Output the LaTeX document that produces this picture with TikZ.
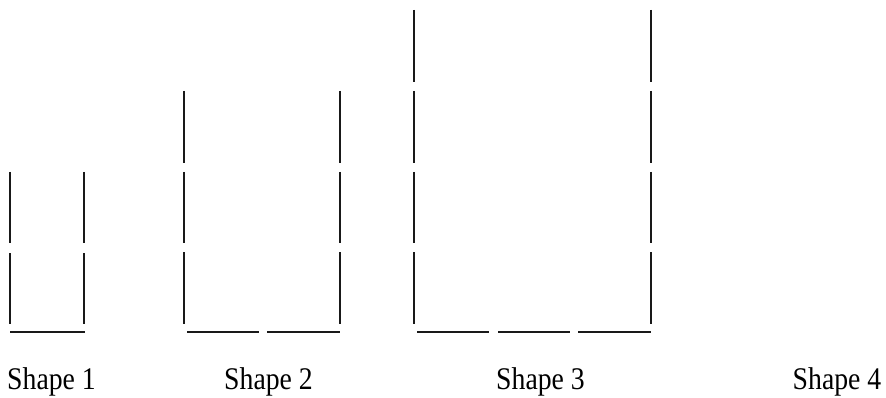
\documentclass[tikz,border=0pt]{standalone}
\usepackage{fontspec}
\newfontfamily\lblfont[FakeStretch=0.88]{Liberation Serif}
\begin{document}
\begin{tikzpicture}[x=1pt,y=-1pt,
  seg/.style={line width=2.6pt,draw=black!90},
  lbl/.style={anchor=base,inner sep=0pt,font=\lblfont\fontsize{31.5}{34}\selectfont}]
\useasboundingbox (0,0) rectangle (886,398);
% Shape 1
\foreach \a/\b in {172/243,253/324}{
  \draw[seg] (10,\a) -- (10,\b);
  \draw[seg] (84,\a) -- (84,\b);
}
\draw[seg] (10,332) -- (85,332);
% Shape 2
\foreach \a/\b in {91/163,172/243,252/324}{
  \draw[seg] (184,\a) -- (184,\b);
  \draw[seg] (340,\a) -- (340,\b);
}
\draw[seg] (187,332) -- (259,332);
\draw[seg] (267,332) -- (340,332);
% Shape 3
\foreach \a/\b in {10/82,91/163,172/243,252/324}{
  \draw[seg] (414,\a) -- (414,\b);
  \draw[seg] (651,\a) -- (651,\b);
}
\draw[seg] (417,332) -- (489,332);
\draw[seg] (498,332) -- (570,332);
\draw[seg] (578,332) -- (651,332);
% Labels
\node[lbl] (l1) at (51.5,389) {Shape 1};
\node[lbl] (l2) at (268.5,389) {Shape 2};
\node[lbl] (l3) at (540.5,389) {Shape 3};
\node[lbl] (l4) at (837,389) {Shape 4};
\end{tikzpicture}
\end{document}
